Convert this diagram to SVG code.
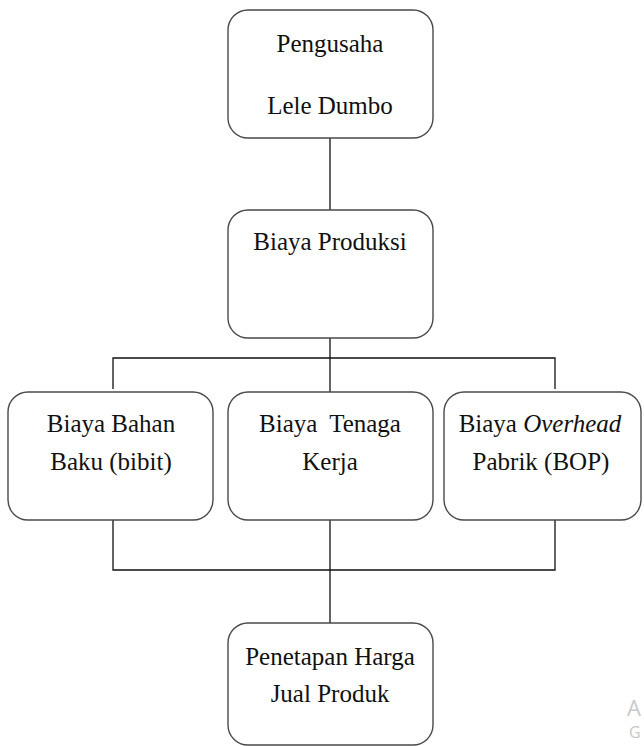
<svg xmlns="http://www.w3.org/2000/svg" width="644" height="746" viewBox="0 0 644 746">
<style>
.box{fill:#fff;stroke:#4a4a4a;stroke-width:1.4}
.t{font-family:"Liberation Serif","Times New Roman",serif;font-size:25px;fill:#111;text-anchor:middle}
.ln{stroke:#111;stroke-width:1.3;fill:none}
.wm{font-family:"Open Sans","Noto Sans",sans-serif;fill:#c8c8c8}
</style>
<rect width="644" height="746" fill="#fff"/>
<g id="connectors">
<line class="ln" x1="330" y1="138" x2="330" y2="210"/>
<line class="ln" x1="330" y1="338" x2="330" y2="392"/>
<polyline class="ln" points="113,389 113,358 555,358 555,389"/>
<polyline class="ln" points="113,520 113,570 555,570 555,520"/>
<line class="ln" x1="330" y1="520" x2="330" y2="623"/>
</g>
<g id="pengusaha">
<rect class="box" x="228" y="10" width="205" height="128" rx="20"/>
<text class="t" x="330" y="52">Pengusaha</text>
<text class="t" x="330" y="114">Lele Dumbo</text>
</g>
<g id="biaya-produksi">
<rect class="box" x="228" y="210" width="205" height="128" rx="20"/>
<text class="t" x="330" y="250">Biaya Produksi</text>
</g>
<g id="bahan-baku">
<rect class="box" x="8" y="392" width="205" height="128" rx="20"/>
<text class="t" x="111" y="432">Biaya Bahan</text>
<text class="t" x="111" y="470">Baku (bibit)</text>
</g>
<g id="tenaga-kerja">
<rect class="box" x="228" y="392" width="205" height="128" rx="20"/>
<text class="t" x="330" y="432" word-spacing="6">Biaya Tenaga</text>
<text class="t" x="330" y="470">Kerja</text>
</g>
<g id="overhead">
<rect class="box" x="444" y="392" width="197" height="128" rx="20"/>
<text class="t" x="540" y="432">Biaya <tspan font-style="italic">Overhead</tspan></text>
<text class="t" x="541" y="470">Pabrik (BOP)</text>
</g>
<g id="harga-jual">
<rect class="box" x="228" y="623" width="205" height="122" rx="20"/>
<text class="t" x="330" y="665">Penetapan Harga</text>
<text class="t" x="330" y="702">Jual Produk</text>
</g>
<text class="wm" x="627" y="716" font-size="22">A</text>
<text class="wm" x="629" y="738" font-size="16">G</text>
</svg>
